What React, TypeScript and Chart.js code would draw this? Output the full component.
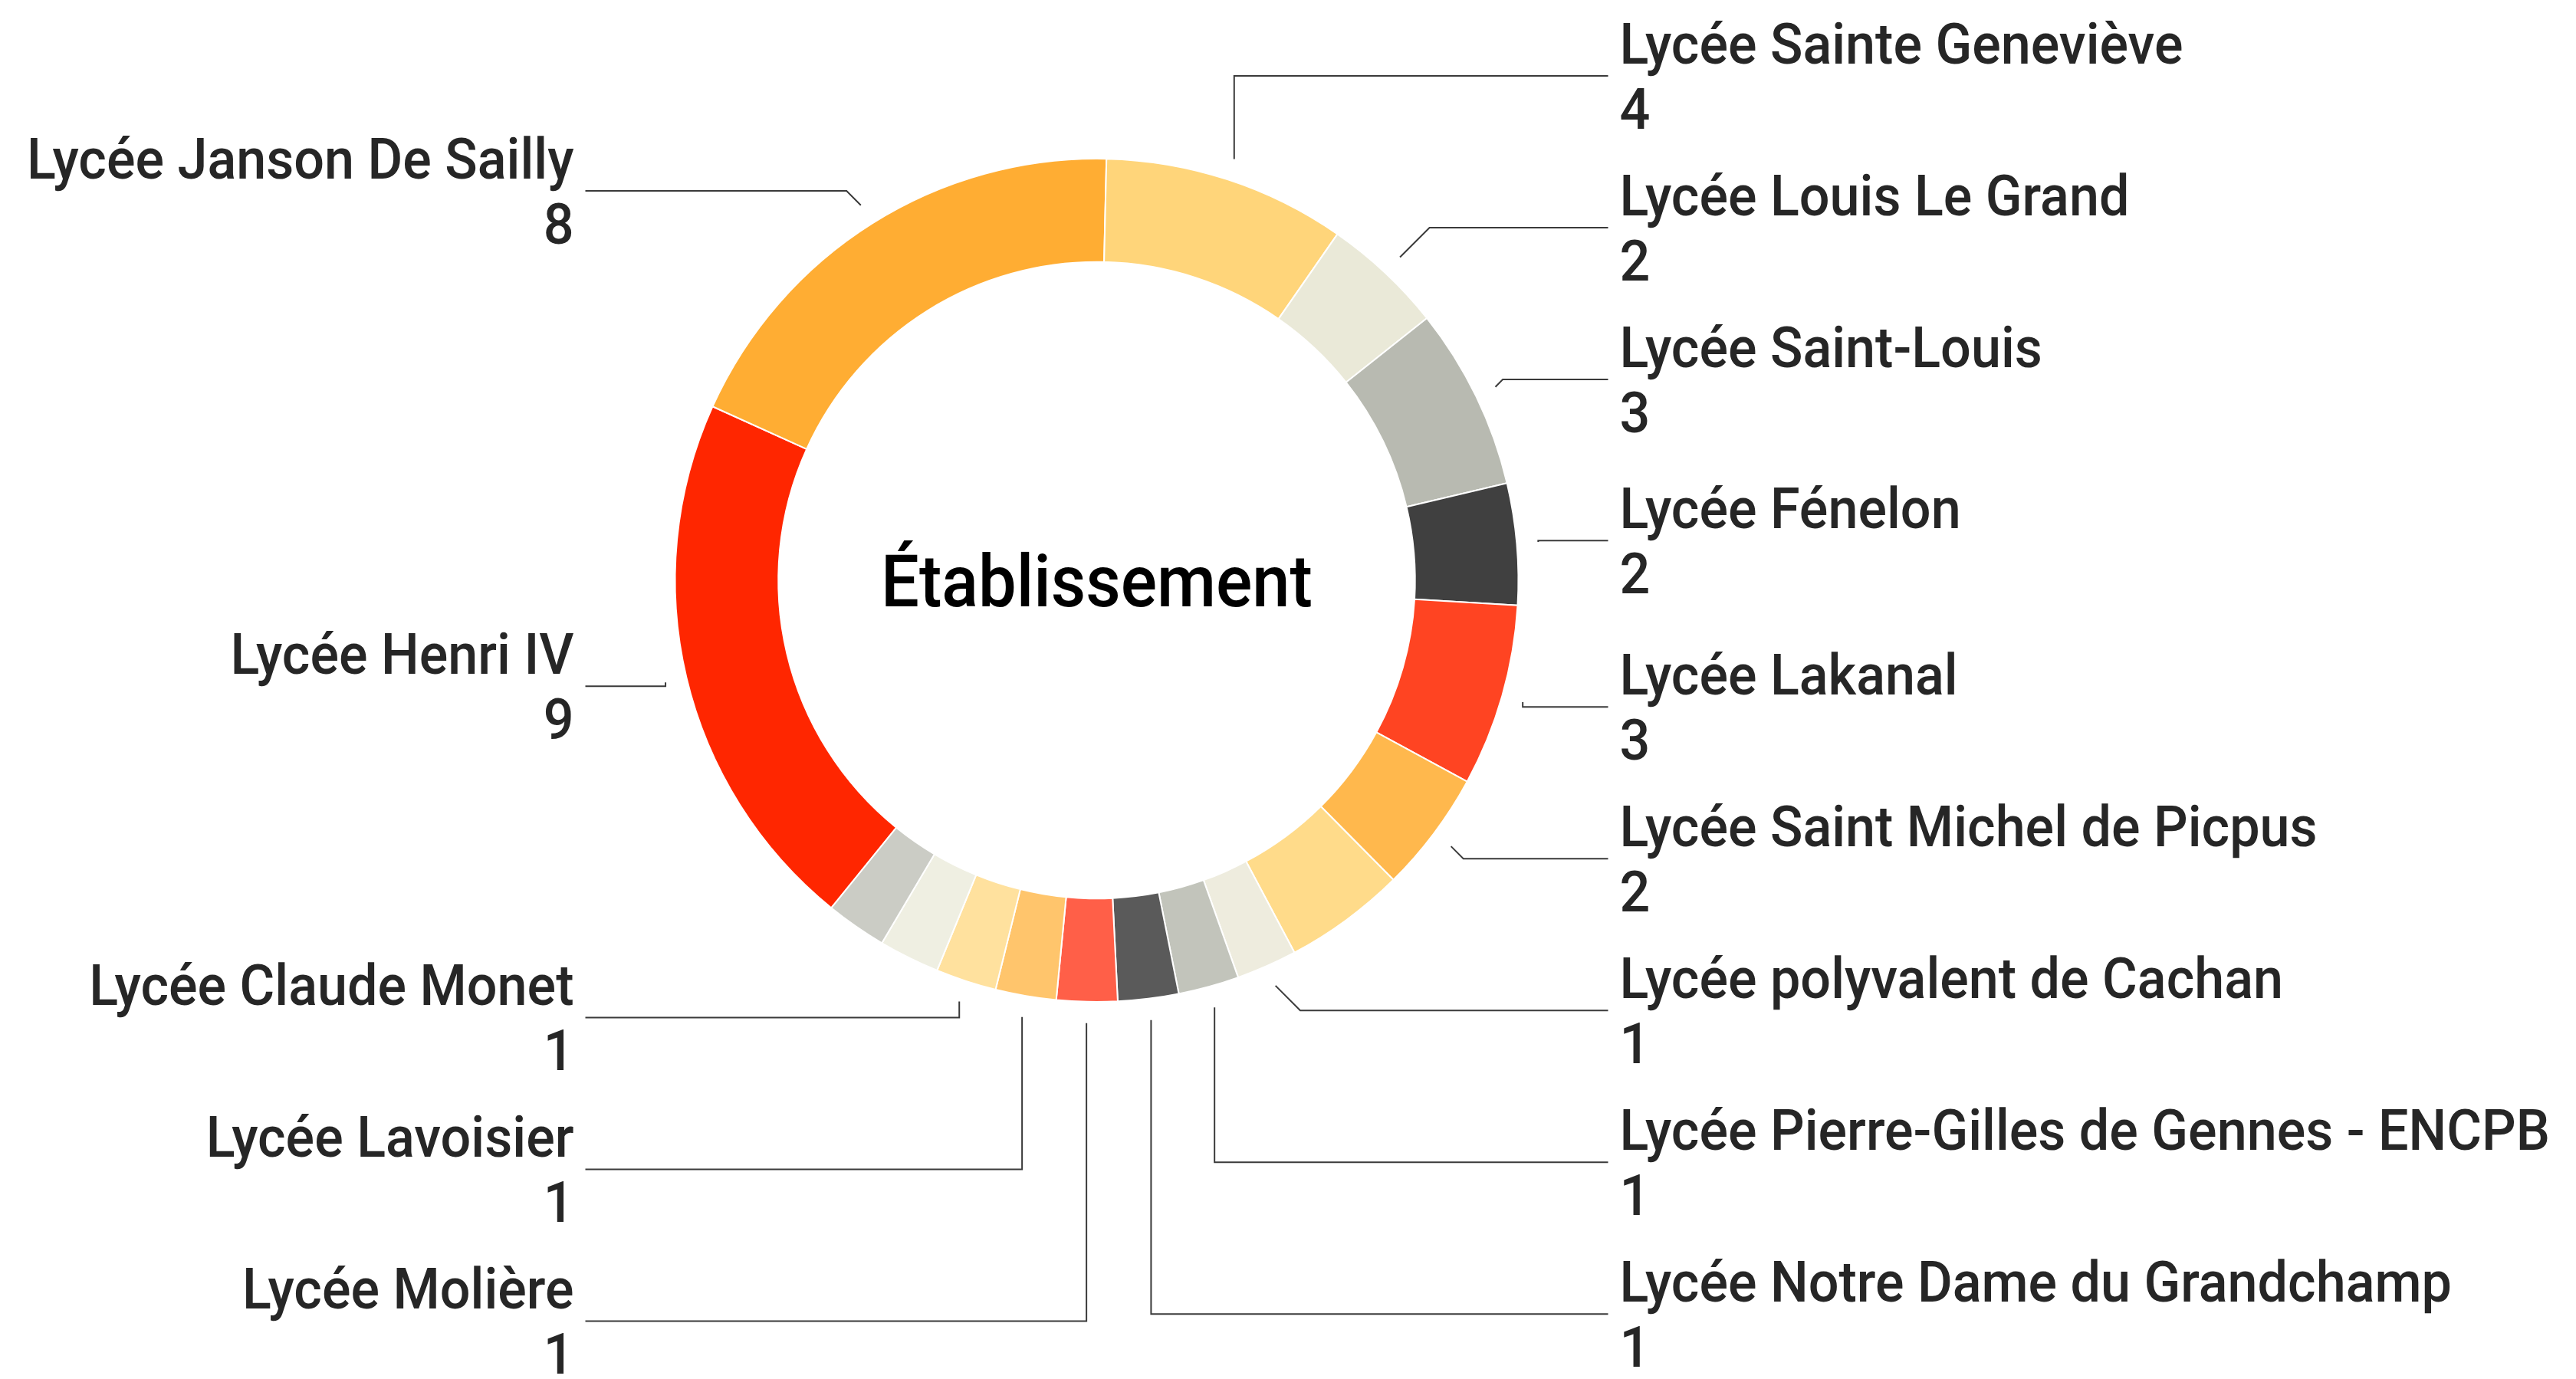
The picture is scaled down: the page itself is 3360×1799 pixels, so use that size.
import React, { useEffect, useRef } from "react";
import { Chart, registerables } from "chart.js";

Chart.register(...registerables);

// ---- Data (clockwise, starting with the first slice of the palette) ----
const CATEGORIES = [
  "Lycée Henri IV",
  "Lycée Janson De Sailly",
  "Lycée Sainte Geneviève",
  "Lycée Louis Le Grand",
  "Lycée Saint-Louis",
  "Lycée Fénelon",
  "Lycée Lakanal",
  "Lycée Saint Michel de Picpus",
  "Autre établissement 1",
  "Lycée polyvalent de Cachan",
  "Lycée Pierre-Gilles de Gennes - ENCPB",
  "Lycée Notre Dame du Grandchamp",
  "Lycée Molière",
  "Lycée Lavoisier",
  "Lycée Claude Monet",
  "Autre établissement 2",
  "Autre établissement 3",
];

const VALUES = [9, 8, 4, 2, 3, 2, 3, 2, 2, 1, 1, 1, 1, 1, 1, 1, 1];

// labels that are not drawn in the reference (no room for them)
const SHOW_LABEL = [
  true, true, true, true, true, true, true, true, false,
  true, true, true, true, true, true, false, false,
];

const COLORS = [
  "#FF2600", "#FFAD33", "#FFD57A", "#EAE9D8", "#B8BAB1", "#404040",
  "#FF4422", "#FFB84D", "#FFDB8A", "#EEECDE", "#C2C4BB", "#5A5A5A",
  "#FF5F48", "#FFC56C", "#FFE19E", "#EFEFE2", "#CBCCC5",
];

const CENTER_TITLE = "Établissement";

const FONT_FAMILY = "Roboto, 'Noto Sans', 'DejaVu Sans', sans-serif";

type LabelItem = {
  name: string;
  value: number;
  side: number;
  sx: number;
  sy: number;
  natY: number;
  y: number;
  kind: "h" | "v" | "d";
};

const outerLabelsPlugin = {
  id: "outerLabels",
  afterDraw(chart: any) {
    const meta = chart.getDatasetMeta(0);
    const arcs = meta.data as any[];
    if (!arcs || !arcs.length) return;
    const ctx: CanvasRenderingContext2D = chart.ctx;
    const cx = arcs[0].x;
    const cy = arcs[0].y;
    const R = arcs[0].outerRadius;
    const tickR = R + 28;
    const natR = R + 50;
    const lineOff = R + 117;
    const gap = 15;
    const spacing = 198;

    const items: LabelItem[] = [];
    arcs.forEach((arc, i) => {
      if (!SHOW_LABEL[i]) return;
      const mid = (arc.startAngle + arc.endAngle) / 2;
      const c = Math.cos(mid);
      const s = Math.sin(mid);
      const side = c >= 0 ? 1 : -1;
      const a = Math.atan2(s, c);
      const snapped = Math.round(a / (Math.PI / 4)) * (Math.PI / 4);
      const dx = Math.cos(snapped);
      const dy = Math.sin(snapped);
      let kind: "h" | "v" | "d" = "d";
      if (Math.abs(dy) < 0.01) kind = "h";
      else if (Math.abs(dx) < 0.01) kind = "v";
      items.push({
        name: CATEGORIES[i],
        value: VALUES[i],
        side,
        sx: cx + tickR * c,
        sy: cy + tickR * s,
        natY: cy + natR * s,
        y: cy + natR * s,
        kind,
      });
    });

    // arrange each side: labels above centre pushed upward, below pushed downward
    [1, -1].forEach((side) => {
      const sideItems = items.filter((it) => it.side === side);
      const below = sideItems.filter((it) => it.natY >= cy).sort((a, b) => a.natY - b.natY);
      const above = sideItems.filter((it) => it.natY < cy).sort((a, b) => b.natY - a.natY);
      let prev = -Infinity;
      below.forEach((it) => {
        it.y = Math.max(it.natY, prev + spacing);
        prev = it.y;
      });
      prev = Infinity;
      above.forEach((it) => {
        it.y = Math.min(it.natY, prev - spacing);
        prev = it.y;
      });
    });

    ctx.save();
    // leader lines
    ctx.strokeStyle = "#3a3a3a";
    ctx.lineWidth = 2;
    ctx.lineJoin = "miter";
    items.forEach((it) => {
      let ex = it.sx;
      if (it.kind === "d") ex = it.sx + it.side * Math.abs(it.y - it.sy);
      const endX = cx + it.side * lineOff;
      ctx.beginPath();
      ctx.moveTo(it.sx, it.sy);
      ctx.lineTo(ex, it.y);
      ctx.lineTo(endX, it.y);
      ctx.stroke();
    });

    // label texts
    ctx.font = `500 75px ${FONT_FAMILY}`;
    const squeeze = 735 / ctx.measureText("Lycée Sainte Geneviève").width;
    ctx.fillStyle = "#262626";
    ctx.textBaseline = "alphabetic";
    items.forEach((it) => {
      const tx = cx + it.side * (lineOff + gap);
      ctx.textAlign = it.side > 0 ? "left" : "right";
      ctx.save();
      ctx.translate(tx, it.y - 16);
      ctx.scale(squeeze, 1);
      ctx.fillText(it.name, 0, 0);
      ctx.restore();
      ctx.save();
      ctx.translate(tx, it.y + 69);
      ctx.scale(squeeze, 1);
      ctx.fillText(String(it.value), 0, 0);
      ctx.restore();
    });

    // centre title
    ctx.font = `500 94px ${FONT_FAMILY}`;
    const tSqueeze = 563 / ctx.measureText(CENTER_TITLE).width;
    ctx.fillStyle = "#000000";
    ctx.textAlign = "center";
    ctx.save();
    ctx.translate(cx, cy + 34);
    ctx.scale(tSqueeze, 1);
    ctx.fillText(CENTER_TITLE, 0, 0);
    ctx.restore();

    ctx.restore();
  },
};

export default function App() {
  const canvasRef = useRef<HTMLCanvasElement | null>(null);

  useEffect(() => {
    document.body.style.margin = "0";
    const canvas = canvasRef.current;
    if (!canvas) return;
    const chart = new Chart(canvas, {
      type: "doughnut",
      data: {
        labels: CATEGORIES,
        datasets: [
          {
            data: VALUES,
            backgroundColor: COLORS,
            borderColor: "#ffffff",
            borderWidth: 2,
            hoverOffset: 0,
          },
        ],
      },
      options: {
        responsive: true,
        maintainAspectRatio: false,
        animation: false,
        cutout: "75.5%",
        rotation: 219,
        layout: {
          padding: { left: 879.5, right: 1378.5, top: 206, bottom: 491 },
        },
        plugins: {
          legend: { display: false },
          tooltip: { enabled: false },
          title: { display: false },
        },
      },
      plugins: [outerLabelsPlugin],
    });
    let alive = true;
    if ((document as any).fonts && (document as any).fonts.ready) {
      (document as any).fonts.ready.then(() => {
        if (alive) chart.draw();
      });
    }
    return () => {
      alive = false;
      chart.destroy();
    };
  }, []);

  return (
    <div
      style={{
        position: "fixed",
        left: 0,
        top: 0,
        width: "100vw",
        height: "100vh",
        background: "#ffffff",
      }}
    >
      <canvas ref={canvasRef} />
    </div>
  );
}
